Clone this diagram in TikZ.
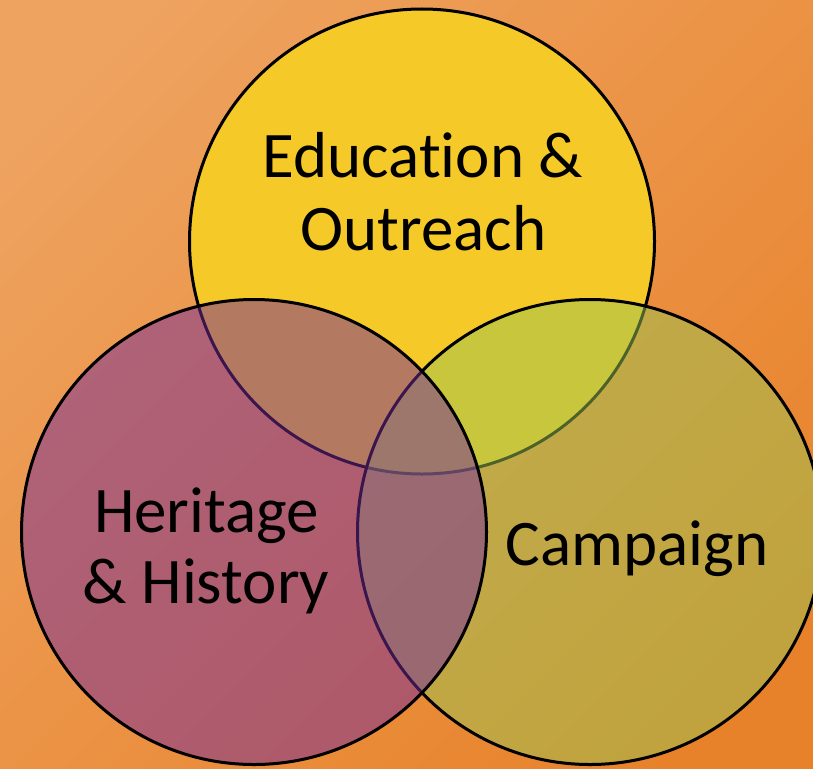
\documentclass[tikz,border=0pt]{standalone}
\usepackage{fontspec}
\setmainfont{Carlito}[Ligatures={NoCommon,TeX}, RawFeature={-liga;-calt;-dlig}]
\definecolor{bgLight}{RGB}{238,163,96}
\definecolor{bgDark}{RGB}{232,130,42}
\definecolor{topYellow}{RGB}{245,201,39}
\definecolor{leftPurple}{RGB}{116,42,156}
\definecolor{rightGreen}{RGB}{154,196,82}
\tikzset{
  venn/.style={draw=black, line width=3pt},
  lbl/.style={anchor=base, inner sep=0pt, font=\fontsize{65}{75}\selectfont, text=black}
}
\begin{document}
\begin{tikzpicture}[x=1pt,y=-1pt]
\useasboundingbox (0,0) rectangle (813,768);
\shade[top color=bgLight, bottom color=bgDark, shading angle=45] (-60,-60) rectangle (873,828);
% circles
\coordinate (cTop) at (422,241.5);
\coordinate (cLeft) at (254,532);
\coordinate (cRight) at (590,532);
\path[venn, fill=topYellow] (cTop) circle[radius=232.5];
\path[venn, fill=rightGreen, fill opacity=0.5] (cRight) circle[radius=232.5];
\path[venn, fill=leftPurple, fill opacity=0.5] (cLeft) circle[radius=232.5];
% labels
\node[lbl] (edu1) at (423,177) {Educat\kern0pt ion \&};
\node[lbl] (edu2) at (423.5,250) {Outreach};
\node[lbl] (her1) at (206.5,532) {Heritage};
\node[lbl] (her2) at (206,603) {\& History};
\node[lbl] (camp) at (637,565) {Campaign};
\end{tikzpicture}
\end{document}
